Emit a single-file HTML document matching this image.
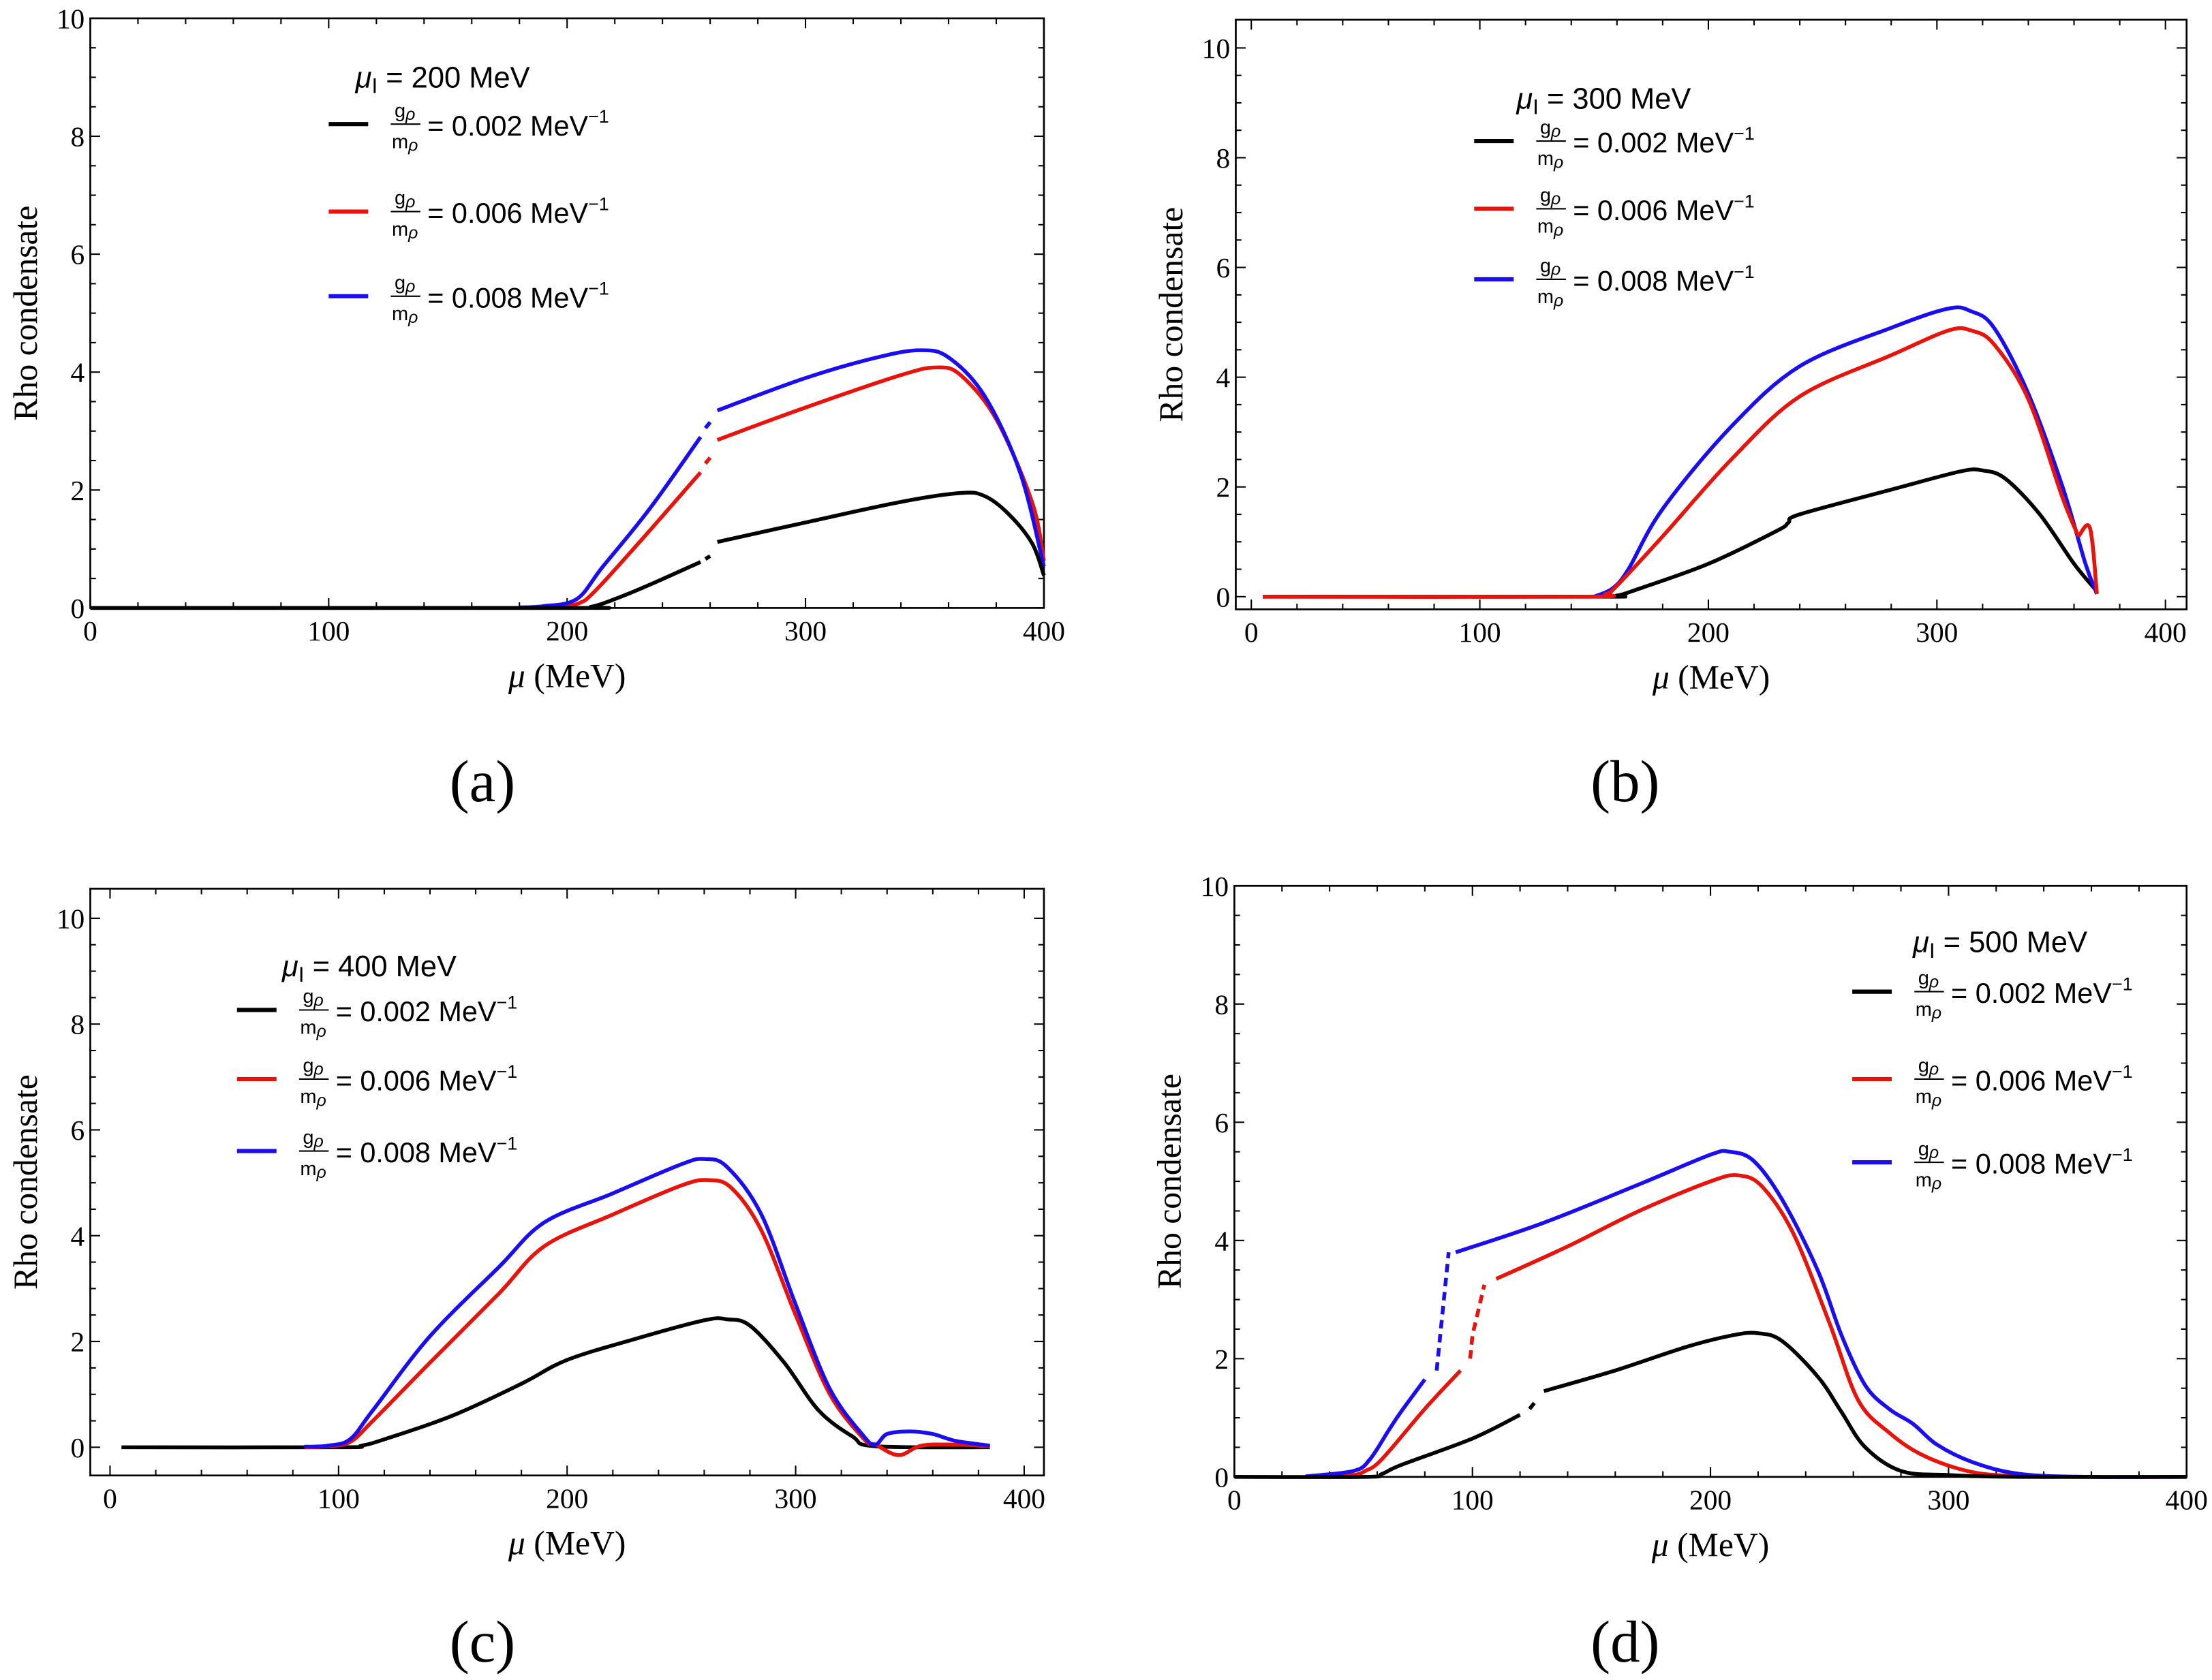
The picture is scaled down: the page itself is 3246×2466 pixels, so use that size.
<!DOCTYPE html>
<html><head><meta charset="utf-8"><style>
html,body{margin:0;padding:0;background:#fff;}
svg{display:block;}
</style></head><body>
<svg id="s" width="3246" height="2466" viewBox="0 0 1568 1191" preserveAspectRatio="none" xmlns="http://www.w3.org/2000/svg" font-family="Liberation Serif, serif"></svg>
<script>
const S=document.getElementById('s');let h='<rect width="1568" height="1191" fill="#fff"/>';
function smooth(pts){
 if(pts.length<3)return 'M'+pts.map(p=>p.join(',')).join(' L');
 let d='M'+pts[0][0].toFixed(1)+','+pts[0][1].toFixed(1);
 for(let i=0;i<pts.length-1;i++){
  const p0=pts[i-1]||pts[i],p1=pts[i],p2=pts[i+1],p3=pts[i+2]||p2;
  const c1=[p1[0]+(p2[0]-p0[0])/6,p1[1]+(p2[1]-p0[1])/6];
  const c2=[p2[0]-(p3[0]-p1[0])/6,p2[1]-(p3[1]-p1[1])/6];
  d+=` C${c1[0].toFixed(1)},${c1[1].toFixed(1)} ${c2[0].toFixed(1)},${c2[1].toFixed(1)} ${p2[0].toFixed(1)},${p2[1].toFixed(1)}`;
 }
 return d;
}
function panel(P){
 const X=v=>P.x0+v*P.sx, Y=v=>P.y0-v*P.sy;
 h+=`<rect x="${P.fx1}" y="${P.fy1}" width="${P.fx2-P.fx1}" height="${P.fy2-P.fy1}" fill="none" stroke="#000" stroke-width="1.3"/>`;
 for(let v=0;v<=400;v+=20){const x=X(v);const M=v%100==0;const L=M?7:4;
  h+=`<line x1="${x}" y1="${P.fy2}" x2="${x}" y2="${P.fy2-L}" stroke="#000"/><line x1="${x}" y1="${P.fy1}" x2="${x}" y2="${P.fy1+L}" stroke="#000"/>`;
  if(M)h+=`<text x="${x}" y="${P.fy2+23}" font-size="20" text-anchor="middle">${v}</text>`;}
 for(let v=0;v<=10;v+=0.5){const y=Y(v);const M=Math.abs(v%2)<1e-6;const L=M?7:4;
  h+=`<line x1="${P.fx1}" y1="${y}" x2="${P.fx1+L}" y2="${y}" stroke="#000"/><line x1="${P.fx2}" y1="${y}" x2="${P.fx2-L}" y2="${y}" stroke="#000"/>`;
  if(M)h+=`<text x="${P.fx1-4}" y="${y+7}" font-size="20" text-anchor="end">${v}</text>`;}
 const cy=(P.fy1+P.fy2)/2, cx=(P.fx1+P.fx2)/2;
 h+=`<text transform="translate(${P.fx1-38},${cy}) rotate(-90)" font-size="24" text-anchor="middle">Rho condensate</text>`;
 h+=`<text x="${cx}" y="${P.fy2+56}" font-size="24" text-anchor="middle"><tspan font-style="italic">μ</tspan> (MeV)</text>`;
 h+=`<text x="${P.cap[0]}" y="${P.cap[1]}" font-size="42" text-anchor="middle">(${P.lab})</text>`;
 const col={k:'#000',r:'#e8140c',b:'#1a0ef0'};
 for(const [c,segs] of P.series){for(const seg of segs){
  const pts=seg.p.map(q=>[X(q[0]),Y(q[1])]);
  h+=`<path fill="none" stroke="${col[c]}" stroke-width="2.7" stroke-linejoin="round" ${seg.d?'stroke-dasharray="6,4"':''} d="${seg.d?'M'+pts.map(p=>p[0].toFixed(1)+','+p[1].toFixed(1)).join(' L'):smooth(pts)}"/>`;}}
 const L=P.leg;
 h+=`<text x="${L.tx}" y="${L.ty}" font-family="Liberation Sans, sans-serif" font-size="21"><tspan font-style="italic">μ</tspan><tspan font-size="15" dy="4">I</tspan><tspan dy="-4"> = ${P.mu} MeV</tspan></text>`;
 const vals=['0.002','0.006','0.008'],cs=['#000','#e8140c','#1a0ef0'];
 L.ys.forEach((y,i)=>{
  h+=`<line x1="${L.lx}" y1="${y}" x2="${L.lx+28}" y2="${y}" stroke="${cs[i]}" stroke-width="3"/>`;
  const fx=L.lx+44;
  h+=`<text x="${fx+10}" y="${y-5}" font-family="Liberation Sans, sans-serif" font-size="14" text-anchor="middle">g<tspan font-style="italic" font-size="12" dy="2">ρ</tspan></text>`;
  h+=`<line x1="${fx}" y1="${y}" x2="${fx+21}" y2="${y}" stroke="#000" stroke-width="1"/>`;
  h+=`<text x="${fx+10}" y="${y+17}" font-family="Liberation Sans, sans-serif" font-size="14" text-anchor="middle">m<tspan font-style="italic" font-size="12" dy="2">ρ</tspan></text>`;
  h+=`<text x="${fx+26}" y="${y+8}" font-family="Liberation Sans, sans-serif" font-size="20">= ${vals[i]} MeV<tspan font-size="13" dy="-9">−1</tspan></text>`;
 });
}
const s=(p,d)=>({p,d});
panel({lab:'a',mu:200,x0:64,sx:1.69,y0:431,sy:41.8,fx1:64,fx2:740,fy1:13,fy2:431,cap:[342,568],
 leg:{tx:252,ty:62,lx:233,ys:[88,150,210]},
 series:[
 ['r',[s([[185,0],[195,0.02],[205,0.08],[212,0.3],[230,1.1],[256,2.3]]),s([[258,2.45],[260,2.55]]),s([[263,2.85],[300,3.4],[340,3.95],[355,4.08],[365,3.95],[380,3.2],[395,1.8],[400,0.8]])]],
 ['b',[s([[180,0.01],[190,0.03],[204,0.15],[215,0.7],[235,1.7],[256,2.9]]),s([[258,3.05],[260,3.15]]),s([[263,3.35],[300,3.9],[330,4.25],[348,4.37],[360,4.25],[375,3.6],[390,2.3],[400,0.7]])]],
 ['k',[s([[0,0],[200,0],[210,0.02],[220,0.15],[235,0.4],[256,0.78]]),s([[258,0.83],[260,0.88]]),s([[263,1.12],[300,1.45],[340,1.8],[365,1.95],[375,1.9],[385,1.6],[395,1.1],[400,0.55]])]]
 ]});
panel({lab:'b',mu:300,x0:887,sx:1.62,y0:423,sy:38.9,fx1:876,fx2:1550,fy1:14,fy2:432,cap:[1152,568],
 leg:{tx:1075,ty:77,lx:1045,ys:[100,148,198]},
 series:[
 ['k',[s([[5,0],[150,0],[160,0.02],[170,0.15],[200,0.6],[230,1.2],[235,1.35],[240,1.5],[280,1.95],[310,2.28],[320,2.3],[330,2.15],[345,1.5],[360,0.6],[370,0.1]])]],
 ['b',[s([[150,0],[158,0.15],[165,0.5],[180,1.6],[210,3.1],[240,4.2],[280,4.9],[305,5.25],[315,5.2],[325,4.9],[340,3.7],[355,2.0],[365,0.6],[370,0.05]])]],
 ['r',[s([[5,0],[145,0],[155,0.05],[160,0.2],[180,1.1],[210,2.5],[240,3.65],[280,4.4],[305,4.85],[315,4.85],[325,4.6],[340,3.6],[355,1.8],[362,1.1]]),s([[362,1.1],[367,1.25],[370,0.05]],0)]]
 ]});
panel({lab:'c',mu:400,x0:78,sx:1.62,y0:1026,sy:37.5,fx1:64,fx2:740,fy1:630,fy2:1046,cap:[342,1178],
 leg:{tx:200,ty:692,lx:168,ys:[716,765,816]},
 series:[
 ['k',[s([[5,0],[100,0],[110,0.03],[120,0.15],[150,0.6],[180,1.2],[200,1.65],[230,2.05],[260,2.4],[270,2.42],[280,2.3],[295,1.6],[310,0.7],[325,0.2],[335,0.02],[385,0]])]],
 ['r',[s([[85,0],[95,0.02],[105,0.1],[115,0.5],[140,1.6],[170,2.9],[190,3.8],[220,4.4],[250,4.95],[262,5.05],[272,4.9],[285,4.1],[300,2.5],[315,1.0],[330,0.15],[335,0.05],[345,-0.15],[355,0.03],[370,0.05],[385,0.02]])]],
 ['b',[s([[85,0.01],[95,0.03],[105,0.15],[115,0.7],[140,2.1],[170,3.4],[190,4.25],[220,4.8],[250,5.35],[260,5.45],[270,5.3],[285,4.4],[300,2.7],[315,1.1],[330,0.2],[335,0.05],[340,0.25],[350,0.3],[360,0.25],[370,0.12],[385,0.03]])]]
 ]});
panel({lab:'d',mu:500,x0:875,sx:1.6875,y0:1047,sy:41.9,fx1:875,fx2:1550,fy1:628,fy2:1047,cap:[1152,1178],
 leg:{tx:1356,ty:675,lx:1313,ys:[703,765,824]},
 series:[
 ['r',[s([[40,0],[50,0.03],[55,0.1],[62,0.3],[80,1.15],[95,1.8]]),s([[99,2.0],[100,2.4],[105,3.25]],1),s([[110,3.35],[140,3.9],[170,4.5],[200,5.0],[212,5.1],[222,4.9],[235,4.1],[250,2.6],[262,1.3],[275,0.75],[290,0.35],[310,0.08],[330,0.01],[345,0]])]],
 ['b',[s([[30,0.01],[50,0.1],[57,0.3],[65,0.8],[70,1.1],[80,1.65]]),s([[85,1.8],[90,3.8]],1),s([[93,3.8],[130,4.3],[170,4.95],[200,5.45],[208,5.5],[218,5.35],[230,4.7],[245,3.5],[255,2.4],[265,1.55],[275,1.15],[285,0.9],[295,0.55],[310,0.25],[330,0.05],[360,0],[400,0]])]],
 ['k',[s([[0,0],[55,0],[62,0.05],[70,0.2],[100,0.65],[120,1.05]]),s([[124,1.15],[126,1.25]]),s([[130,1.45],[160,1.8],[190,2.2],[210,2.4],[220,2.43],[230,2.3],[245,1.7],[255,1.1],[265,0.5],[280,0.1],[300,0.03],[330,0],[400,0]])]]
 ]});
S.innerHTML=h;
</script>
</body></html>
